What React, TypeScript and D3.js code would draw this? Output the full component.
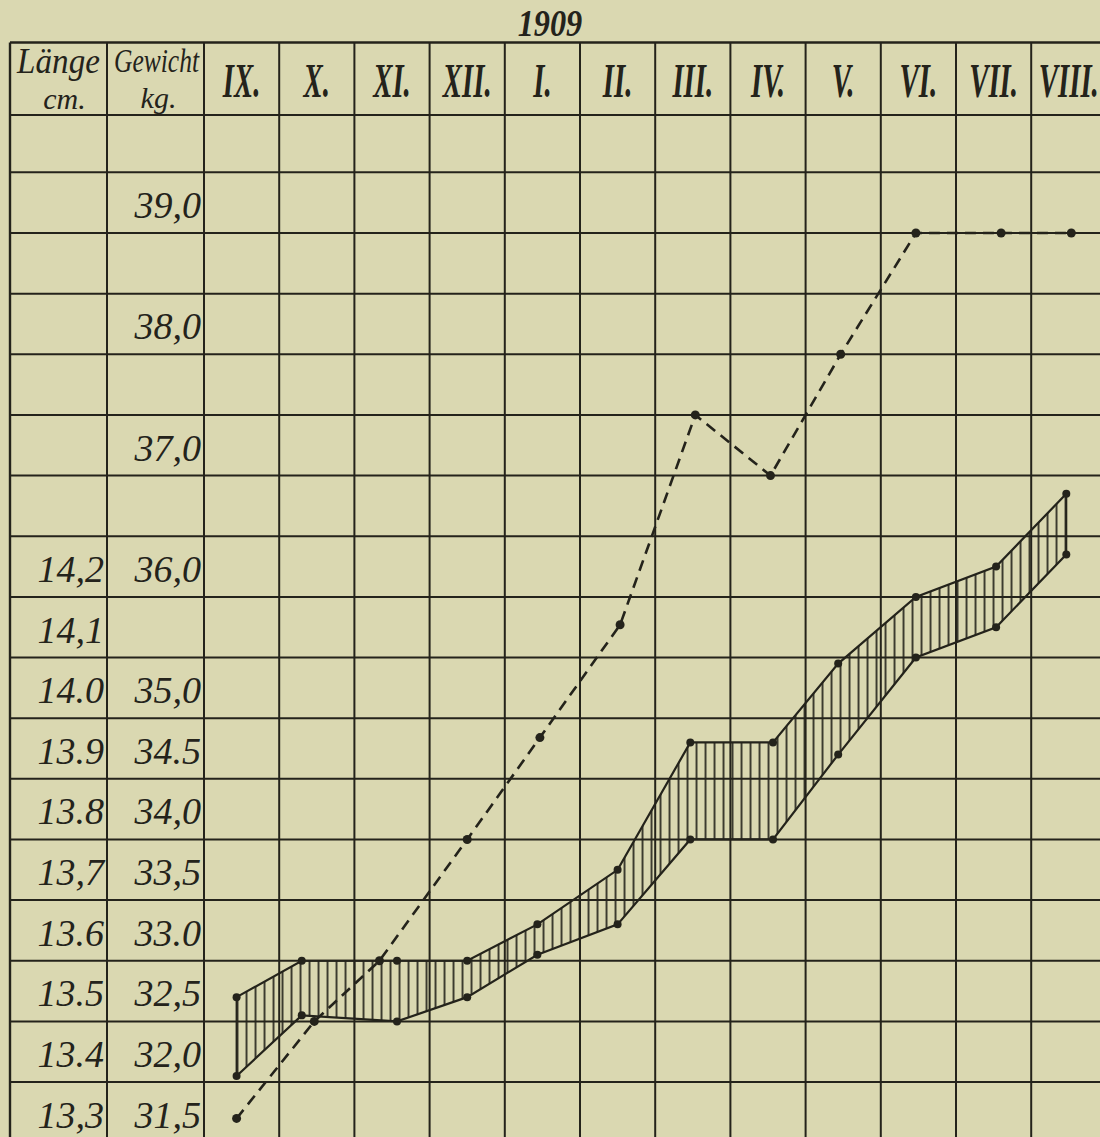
import React from "react";
import * as d3 from "d3";

// ---------- data ----------
const yearLabel = "1909";
const months = ["IX.", "X.", "XI.", "XII.", "I.", "II.", "III.", "IV.", "V.", "VI.", "VII.", "VIII."];

const lengthTickValues = [13.3, 13.4, 13.5, 13.6, 13.7, 13.8, 13.9, 14.0, 14.1, 14.2];
const lengthTickLabels = ["13,3", "13.4", "13.5", "13.6", "13,7", "13.8", "13.9", "14.0", "14,1", "14,2"];

const weightTickValues = [31.5, 32.0, 32.5, 33.0, 33.5, 34.0, 34.5, 35.0, 36.0, 37.0, 38.0, 39.0];
const weightTickLabels = ["31,5", "32,0", "32,5", "33.0", "33,5", "34,0", "34.5", "35,0", "36,0", "37,0", "38,0", "39,0"];

// hatched band (Länge, cm): day of month of measurement, upper and lower edge
const bandDay = [13, 9, 17, 15, 13, 15, 14, 17, 13, 14, 16, 14];
const bandUpper = [13.54, 13.6, 13.6, 13.6, 13.66, 13.75, 13.96, 13.96, 14.09, 14.2, 14.25, 14.37];
const bandLower = [13.41, 13.51, 13.5, 13.54, 13.61, 13.66, 13.8, 13.8, 13.94, 14.1, 14.15, 14.27];

// dashed line (Gewicht, kg)
const weightDay = [13, 14, 10, 15, 14, 16, 16, 16, 14, 14, 18, 16];
const weightValues = [31.7, 32.5, 33.0, 34.0, 34.84, 35.77, 37.5, 37.0, 38.0, 39.0, 39.0, 39.0];

// grid rows (kg, every half kg)
const gridWeights = d3.range(31.5, 39.51, 0.5);

// ---------- layout ----------
const W = 1100;
const H = 1137;
const PAPER = "#dad8b1";
const INK = "#24231b";
const colLeft = 10;
const colMid = 107;
const plotLeft = 204;
const colWidth = 75.2;
const tableTop = 42.5;
const headerBottom = 115;

const xScale = d3.scaleLinear().domain([0, 12]).range([plotLeft, plotLeft + 12 * colWidth]);
const yW = d3.scaleLinear().domain([31.5, 39.0]).range([1142.7, 233]);
const yL = d3.scaleLinear().domain([13.3, 14.8]).range([1142.7, 233]);

const serif = "'Liberation Serif', 'DejaVu Serif', serif";

export default function App() {
  const bandPts = months.map((_, i) => ({
    x: xScale(i + bandDay[i] / 30),
    up: yL(bandUpper[i]),
    lo: yL(bandLower[i]),
  }));
  const wPts = months.map((_, i) => ({ x: xScale(i + weightDay[i] / 30), y: yW(weightValues[i]) }));

  const area = d3
    .area<{ x: number; up: number; lo: number }>()
    .x((d) => d.x)
    .y0((d) => d.lo)
    .y1((d) => d.up);
  const upLine = d3.line<{ x: number; up: number }>().x((d) => d.x).y((d) => d.up);
  const loLine = d3.line<{ x: number; lo: number }>().x((d) => d.x).y((d) => d.lo);
  const wLine = d3.line<{ x: number; y: number }>().x((d) => d.x).y((d) => d.y);

  const colLines = [colLeft, colMid, ...d3.range(0, 13).map((i) => xScale(i))];
  const rowLines = [tableTop, headerBottom, ...gridWeights.map((w) => yW(w))];

  return (
    <svg
      width={W}
      height={H}
      viewBox={`0 0 ${W} ${H}`}
      style={{ position: "absolute", left: 0, top: 0, background: PAPER }}
    >
      <defs>
        <pattern id="hatch" patternUnits="userSpaceOnUse" width={9} height={10} x={bandPts[0].x}>
          <line x1={0.9} y1={0} x2={0.9} y2={10} stroke={INK} strokeWidth={1.7} />
        </pattern>
      </defs>
      <rect x={0} y={0} width={W} height={H} fill={PAPER} />

      {/* grid */}
      <g stroke={INK} strokeWidth={2}>
        {rowLines.map((y, i) => (
          <line key={"r" + i} x1={colLeft} x2={W + 20} y1={y} y2={y} strokeWidth={i === 0 ? 2.6 : 2} />
        ))}
        {colLines.map((x, i) => (
          <line key={"c" + i} x1={x} x2={x} y1={tableTop} y2={H + 20} strokeWidth={i === 0 ? 2.4 : 2} />
        ))}
      </g>

      {/* year */}
      <text
        transform={`translate(${xScale(4.6)},36) scale(0.85,1)`}
        textAnchor="middle"
        fontFamily={serif}
        fontStyle="italic"
        fontWeight="bold"
        fontSize={38}
        fill={INK}
      >
        {yearLabel}
      </text>

      {/* header labels */}
      <g fontFamily={serif} fontStyle="italic" fill={INK}>
        <text transform={`translate(${(colLeft + colMid) / 2},73) scale(0.92,1)`} textAnchor="middle" fontSize={36}>
          Länge
        </text>
        <text transform={`translate(${(colLeft + colMid) / 2 + 6},109) scale(1,1)`} textAnchor="middle" fontSize={30}>
          cm.
        </text>
        <text transform={`translate(${(colMid + plotLeft) / 2 + 1},72) scale(0.75,1)`} textAnchor="middle" fontSize={34}>
          Gewicht
        </text>
        <text transform={`translate(${(colMid + plotLeft) / 2 + 3},108) scale(1,1)`} textAnchor="middle" fontSize={30}>
          kg.
        </text>
      </g>

      {/* month labels */}
      <g fontFamily={serif} fontStyle="italic" fontWeight="bold" fill={INK} fontSize={48}>
        {months.map((m, i) => (
          <text key={m} transform={`translate(${xScale(i + 0.5)},97) scale(0.6,1)`} textAnchor="middle">
            {m}
          </text>
        ))}
      </g>

      {/* axis labels */}
      <g fontFamily={serif} fontStyle="italic" fill={INK} fontSize={38}>
        {lengthTickValues.map((v, i) => (
          <text key={"l" + i} x={colMid - 3} y={yL(v) - 15} textAnchor="end">
            {lengthTickLabels[i]}
          </text>
        ))}
        {weightTickValues.map((v, i) => (
          <text key={"w" + i} x={plotLeft - 3} y={yW(v) - 15} textAnchor="end">
            {weightTickLabels[i]}
          </text>
        ))}
      </g>

      {/* hatched band */}
      <path d={area(bandPts) || ""} fill="url(#hatch)" stroke="none" />
      <path d={upLine(bandPts) || ""} fill="none" stroke={INK} strokeWidth={2.2} />
      <path d={loLine(bandPts) || ""} fill="none" stroke={INK} strokeWidth={2.2} />
      <line x1={bandPts[0].x} x2={bandPts[0].x} y1={bandPts[0].up} y2={bandPts[0].lo} stroke={INK} strokeWidth={2} />
      <line
        x1={bandPts[11].x}
        x2={bandPts[11].x}
        y1={bandPts[11].up}
        y2={bandPts[11].lo}
        stroke={INK}
        strokeWidth={2}
      />
      {bandPts.map((p, i) => (
        <g key={"b" + i} fill={INK}>
          <circle cx={p.x} cy={p.up} r={4} />
          <circle cx={p.x} cy={p.lo} r={4} />
        </g>
      ))}

      {/* dashed weight line */}
      <path d={wLine(wPts) || ""} fill="none" stroke={INK} strokeWidth={2.6} strokeDasharray="11 7" />
      {wPts.map((p, i) => (
        <circle key={"w" + i} cx={p.x} cy={p.y} r={4.5} fill={INK} />
      ))}
    </svg>
  );
}
